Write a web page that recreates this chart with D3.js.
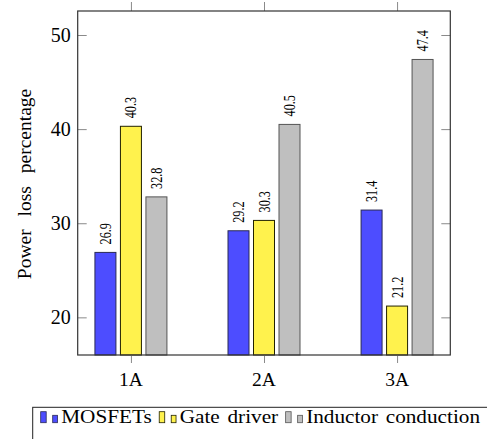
<!DOCTYPE html>
<html>
<head>
<meta charset="utf-8">
<script src="https://cdn.jsdelivr.net/npm/d3@7"></script>
<style>
  html, body { margin: 0; padding: 0; background: #fff; }
  svg { display: block; }
</style>
</head>
<body>
<div id="chart"></div>
<script>
// Power loss breakdown per load current
const categories = ["1A", "2A", "3A"];
const seriesNames = ["MOSFETs", "Gate driver", "Inductor conduction"];
const mosfets = [26.9, 29.2, 31.4];
const gateDriver = [40.3, 30.3, 21.2];
const inductor = [32.8, 40.5, 47.4];
const yTicks = [20, 30, 40, 50];
const seriesColors = ["#4d4dff", "#fff24d", "#bfbfbf"];
const seriesStrokes = ["#2a2a55", "#222200", "#555555"];

const seriesValues = [mosfets, gateDriver, inductor];
const FONT = "'Liberation Serif', 'Times New Roman', serif";

const W = 487, H = 439;
const plot = { left: 77.7, top: 11, right: 450.3, bottom: 355 };

const svg = d3.select("#chart").append("svg")
  .attr("width", W).attr("height", H)
  .style("font-family", FONT);

const x = d3.scaleLinear().domain([0.6, 3.4]).range([plot.left, plot.right]);
const y = d3.scaleLinear().domain([16, 52.55]).range([plot.bottom, plot.top]);

const barW = 21;
const barStep = 25.5;

// Bars
seriesValues.forEach((vals, s) => {
  const offset = (s - 1) * barStep;
  svg.append("g").selectAll("rect")
    .data(vals)
    .join("rect")
    .attr("x", (d, i) => x(i + 1) + offset - barW / 2)
    .attr("y", d => y(d))
    .attr("width", barW)
    .attr("height", d => y(16) - y(d))
    .attr("fill", seriesColors[s])
    .attr("stroke", seriesStrokes[s])
    .attr("stroke-width", 1);

  // Value labels, rotated above each bar
  svg.append("g").selectAll("text")
    .data(vals)
    .join("text")
    .attr("transform", (d, i) =>
      `translate(${x(i + 1) + offset + 5.5},${y(d) - 8}) rotate(-90) scale(0.74,1)`)
    .attr("text-anchor", "start")
    .style("font-family", FONT)
    .style("font-size", "16.5px")
    .text(d => d.toFixed(1));
});

// Axis ticks (left/right inward, top/bottom outward)
const tickColor = "#8a8a8a";
const yAxisL = d3.axisRight(y).tickValues(yTicks).tickSize(9).tickFormat("");
const yAxisR = d3.axisLeft(y).tickValues(yTicks).tickSize(9).tickFormat("");
const xAxisB = d3.axisBottom(x).tickValues([1, 2, 3]).tickSize(8).tickFormat("");
const xAxisT = d3.axisTop(x).tickValues([1, 2, 3]).tickSize(9).tickFormat("");

function styleAxis(g) {
  g.select(".domain").remove();
  g.selectAll(".tick line").attr("stroke", tickColor).attr("stroke-width", 1);
}
svg.append("g").attr("transform", `translate(${plot.left},0)`).call(yAxisL).call(styleAxis);
svg.append("g").attr("transform", `translate(${plot.right},0)`).call(yAxisR).call(styleAxis);
svg.append("g").attr("transform", `translate(0,${plot.bottom})`).call(xAxisB).call(styleAxis);
svg.append("g").attr("transform", `translate(0,${plot.top})`).call(xAxisT).call(styleAxis);

// Tick labels
svg.append("g").selectAll("text")
  .data(yTicks)
  .join("text")
  .attr("x", plot.left - 7)
  .attr("y", d => y(d))
  .attr("dy", "0.34em")
  .attr("text-anchor", "end")
  .style("font-family", FONT)
  .style("font-size", "20px")
  .text(d => d);

svg.append("g").selectAll("text")
  .data(categories)
  .join("text")
  .attr("x", (d, i) => x(i + 1))
  .attr("y", 386)
  .attr("text-anchor", "middle")
  .style("font-family", FONT)
  .style("font-size", "19.5px")
  .text(d => d);

// Plot frame
svg.append("rect")
  .attr("x", plot.left).attr("y", plot.top)
  .attr("width", plot.right - plot.left).attr("height", plot.bottom - plot.top)
  .attr("fill", "none").attr("stroke", "#333").attr("stroke-width", 1.2);

// Y axis title
svg.append("text")
  .attr("transform", `translate(31,${(88 + 280) / 2}) rotate(-90)`)
  .attr("text-anchor", "middle")
  .style("font-family", FONT)
  .style("font-size", "19.5px")
  .style("word-spacing", "8px")
  .text("Power loss percentage");

// Legend
const legend = svg.append("g");
legend.append("rect")
  .attr("x", 32.7).attr("y", 407.3)
  .attr("width", 470).attr("height", 50)
  .attr("fill", "#fff").attr("stroke", "#222").attr("stroke-width", 1);

let cx = 40.7;
const legendBase = 422.7;
const textScale = 1.18;
seriesNames.forEach((name, s) => {
  legend.append("rect")
    .attr("x", cx).attr("y", legendBase - 11)
    .attr("width", 5.5).attr("height", 11)
    .attr("fill", seriesColors[s]).attr("stroke", seriesStrokes[s]).attr("stroke-width", 0.8);
  legend.append("rect")
    .attr("x", cx + 12).attr("y", legendBase - 7.4)
    .attr("width", 4.8).attr("height", 7.4)
    .attr("fill", seriesColors[s]).attr("stroke", seriesStrokes[s]).attr("stroke-width", 0.8);
  const t = legend.append("text")
    .attr("transform", `translate(${cx + 20.5},${legendBase}) scale(${textScale},1)`)
    .style("font-family", FONT)
    .style("font-size", "18px")
    .style("word-spacing", "2px")
    .text(name);
  const w = t.node().getComputedTextLength() * textScale;
  cx = cx + 20.5 + w + 7.5;
});
</script>
</body>
</html>
